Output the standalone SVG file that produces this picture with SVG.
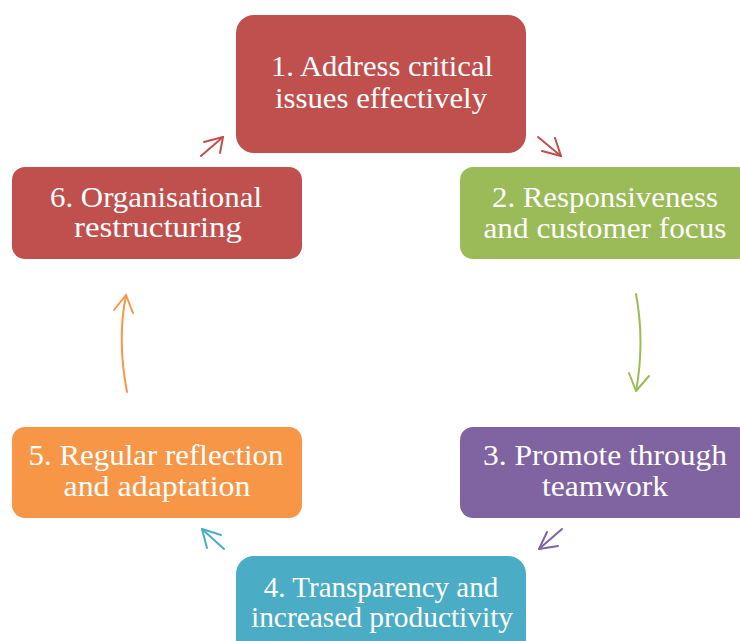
<svg xmlns="http://www.w3.org/2000/svg" width="740" height="641" viewBox="0 0 740 641">
<style>
.t{font-family:"Liberation Serif","Times New Roman",serif;font-size:29px;fill:#ffffff;text-anchor:middle}
.c{fill:none;stroke-width:2;stroke-linecap:round;stroke-linejoin:round}
</style>
<rect width="740" height="641" fill="#ffffff"/>
<g id="node1"><rect x="236" y="15" width="290" height="138" rx="18" fill="#C0504D"/><text class="t" x="382" y="76" textLength="222" lengthAdjust="spacingAndGlyphs">1. Address critical</text><text class="t" x="381" y="108" textLength="212" lengthAdjust="spacingAndGlyphs">issues effectively</text></g>
<g id="node2"><rect x="460" y="167" width="290" height="92" rx="13" fill="#9BBB59"/><text class="t" x="605" y="207" textLength="226" lengthAdjust="spacingAndGlyphs">2. Responsiveness</text><text class="t" x="605" y="238" textLength="243" lengthAdjust="spacingAndGlyphs">and customer focus</text></g>
<g id="node3"><rect x="460" y="427" width="290" height="91" rx="13" fill="#8064A2"/><text class="t" x="605" y="465" textLength="244" lengthAdjust="spacingAndGlyphs">3. Promote through</text><text class="t" x="605" y="496" textLength="126" lengthAdjust="spacingAndGlyphs">teamwork</text></g>
<g id="node4"><rect x="236" y="556" width="290" height="138" rx="18" fill="#4BACC6"/><text class="t" x="381" y="597">4. Transparency and</text><text class="t" x="382" y="627" textLength="262" lengthAdjust="spacingAndGlyphs">increased productivity</text></g>
<g id="node5"><rect x="12" y="427" width="290" height="91" rx="13" fill="#F79646"/><text class="t" x="156" y="465" textLength="255" lengthAdjust="spacingAndGlyphs">5. Regular reflection</text><text class="t" x="157" y="496" textLength="187" lengthAdjust="spacingAndGlyphs">and adaptation</text></g>
<g id="node6"><rect x="12" y="167" width="290" height="92" rx="13" fill="#C0504D"/><text class="t" x="156" y="207" textLength="212" lengthAdjust="spacingAndGlyphs">6. Organisational</text><text class="t" x="158" y="237" textLength="168" lengthAdjust="spacingAndGlyphs">restructuring</text></g>
<g id="connectors">
<g stroke="#C0504D" class="c"><path d="M201,156 L223,137"/><path d="M204,142 L223,137 L220,153"/></g>
<g stroke="#C0504D" class="c"><path d="M538,137 L561,156"/><path d="M542,151 L561,156 L555,138"/></g>
<g stroke="#9BBB59" class="c"><path d="M636,294 Q645,342 636,391"/><path d="M629,373 L636,391 L649,376"/></g>
<g stroke="#8064A2" class="c"><path d="M562,529 L539,549"/><path d="M558,546 L539,549 L547,532"/></g>
<g stroke="#4BACC6" class="c"><path d="M224,549 L202,529"/><path d="M221,535 L202,529 L207,548"/></g>
<g stroke="#F79646" class="c"><path d="M127,392 Q117,340 126,295"/><path d="M114,310 L126,295 L133,313"/></g>
</g>
</svg>
